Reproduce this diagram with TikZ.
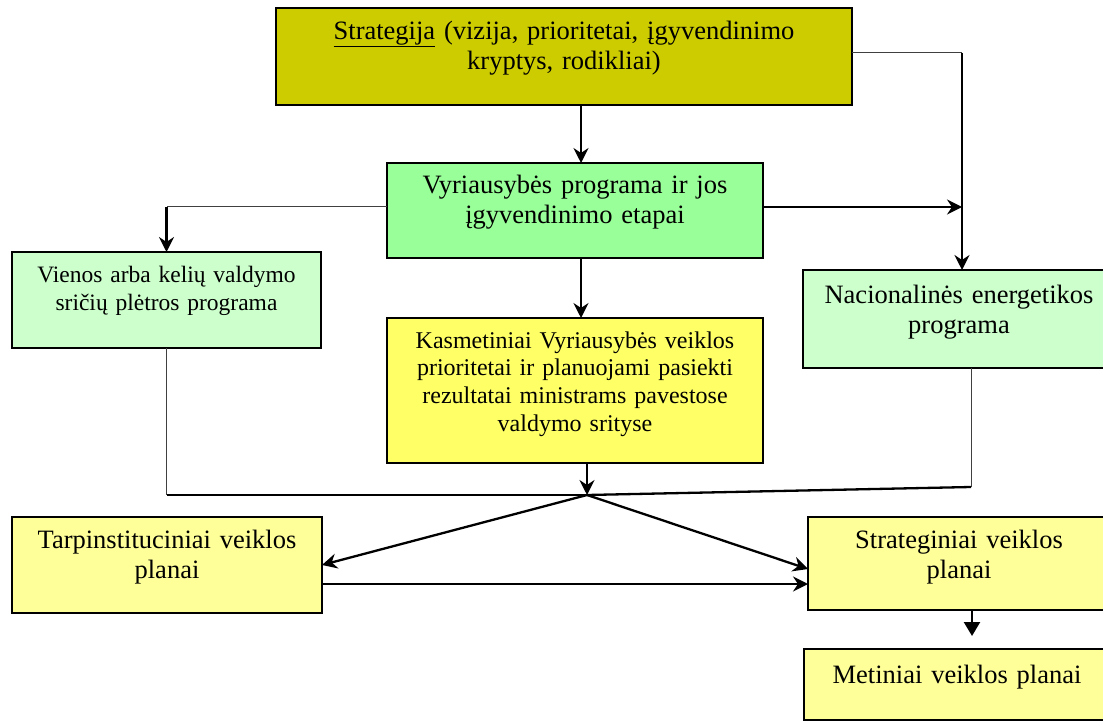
\documentclass[tikz,border=0pt]{standalone}
\usepackage{fontspec}
\setmainfont{Liberation Serif}
\usetikzlibrary{arrows.meta}

\definecolor{olivebox}{HTML}{CCCC00}
\definecolor{greenbox}{HTML}{99FF99}
\definecolor{palegreen}{HTML}{CCFFCC}
\definecolor{yellowbox}{HTML}{FFFF66}
\definecolor{paleyellow}{HTML}{FFFF99}

\tikzset{
  box/.style={draw=black, line width=1.6pt, inner sep=0pt, outer sep=0pt,
    anchor=north west, rectangle},
  lbl/.style={inner sep=0pt, anchor=north, align=center,
    font=\fontsize{26.5}{30}\selectfont},
  lblsmall/.style={lbl, font=\fontsize{24}{27.7}\selectfont},
  thickline/.style={line width=2.3pt, draw=black},
  thinline/.style={line width=1pt, draw=black!75},
  arr/.style={-{Stealth[length=15pt, width=15pt, inset=5pt]}},
  tri/.style={-{Triangle[length=14pt, width=16pt]}},
}

\begin{document}
\begin{tikzpicture}[x=1pt, y=1pt]
  \useasboundingbox (0,0) rectangle (1103,-722);
  \clip (0,0) rectangle (1103,-722);

  % boxes
  \node[box, fill=olivebox,   minimum width=576pt, minimum height=97pt]  (strat) at (276,-8) {};
  \node[box, fill=greenbox,   minimum width=376pt, minimum height=95pt]  (vyr)   at (387,-163) {};
  \node[box, fill=palegreen,  minimum width=309pt, minimum height=96pt]  (vien)  at (12,-252) {};
  \node[box, fill=yellowbox,  minimum width=376pt, minimum height=145pt] (kasm)  at (387,-318) {};
  \node[box, fill=palegreen,  minimum width=312pt, minimum height=98pt]  (nac)   at (803,-270) {};
  \node[box, fill=paleyellow, minimum width=310pt, minimum height=96pt]  (tarp)  at (12,-517) {};
  \node[box, fill=paleyellow, minimum width=302pt, minimum height=93pt]  (strg)  at (808,-517) {};
  \node[box, fill=paleyellow, minimum width=306pt, minimum height=71pt]  (met)   at (804,-649) {};

  % box texts (a strut fixes the first baseline below the node top)
  \node[lbl, text width=570pt] (strat-t) at ([yshift=-10pt]strat.north)
    {\strut\underline{Strategija} (vizija, prioritetai, įgyvendinimo\\ kryptys, rodikliai)};
  \node[lbl, text width=370pt] (vyr-t) at ([yshift=-9pt]vyr.north)
    {\strut Vyriausybės programa ir jos\\ įgyvendinimo etapai};
  \node[lblsmall, text width=300pt, font=\fontsize{23.5}{28}\selectfont] (vien-t)
    at ([yshift=-10.4pt]vien.north)
    {\strut Vienos arba kelių valdymo\\ sričių plėtros programa};
  \node[lblsmall, text width=370pt] (kasm-t) at ([yshift=-10.6pt]kasm.north)
    {\strut Kasmetiniai Vyriausybės veiklos\\ prioritetai ir planuojami pasiekti\\ rezultatai ministrams pavestose\\ valdymo srityse};
  \node[lbl, text width=305pt] (nac-t) at ([yshift=-12pt]nac.north)
    {\strut Nacionalinės energetikos\\ programa};
  \node[lbl, text width=305pt] (tarp-t) at ([yshift=-10pt]tarp.north)
    {\strut Tarpinstituciniai veiklos\\ planai};
  \node[lbl, text width=300pt] (strg-t) at ([yshift=-10pt]strg.north)
    {\strut Strateginiai veiklos\\ planai};
  \node[lbl, text width=300pt] (met-t) at ([yshift=-13pt]met.north)
    {\strut Metiniai veiklos planai};

  % reference points for the connectors
  \coordinate (cx)   at (581,0);
  \coordinate (rx)   at (962,0);
  \coordinate (J)    at (587,-495);
  \coordinate (nacb) at (971,-487);
  \coordinate (mx)   at (972,0);
  \coordinate (mt)   at (972,-636);
  \coordinate (sIn)  at (808,-569);
  \coordinate (hy)   at (0,-584);

  % top-down flow
  \draw[thickline, arr] (strat.south -| cx) -- (vyr.north -| cx);
  \draw[thickline, arr] (vyr.south -| cx) -- (kasm.north -| cx);
  \draw[thinline] (strat.east |- 0,-53) -- (rx |- 0,-53);
  \draw[thickline, arr] (rx |- 0,-53) -- (nac.north -| rx);
  \draw[thickline, arr] (vyr.east |- 0,-207) -- (rx |- 0,-207);
  \draw[thinline] (vyr.west |- 0,-207) -- (vien.north |- 0,-207);
  \draw[thickline, arr] (vien.north |- 0,-207) -- (vien.north);

  % gathering into the junction
  \draw[thinline] (vien.south) -- (vien.south |- J);
  \draw[thickline] (vien.south |- J) -- (J);
  \draw[thinline] (nac.south -| nacb) -- (nacb);
  \draw[thickline] (nacb) -- (J);
  \draw[thickline, arr] (kasm.south -| J) -- (J);

  % plans
  \draw[thickline, arr] (J) -- (tarp.east);
  \draw[thickline, arr] (J) -- (sIn);
  \draw[thickline, arr] (tarp.east |- hy) -- (strg.west |- hy);
  \draw[thickline, tri] (strg.south -| mx) -- (mt);
\end{tikzpicture}
\end{document}
